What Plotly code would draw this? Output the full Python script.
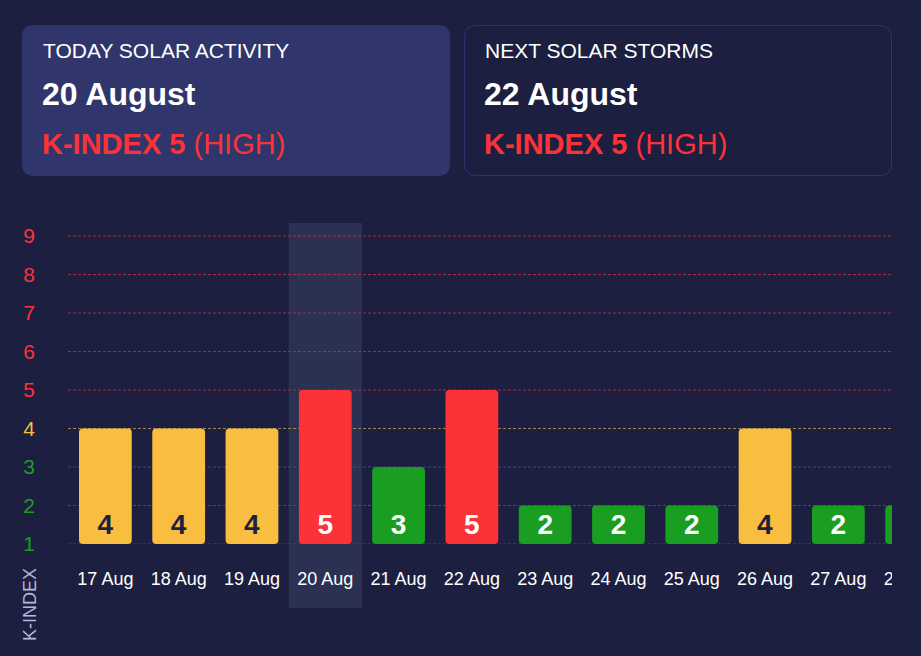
import plotly.graph_objects as go

# chart data
days = ['17 Aug', '18 Aug', '19 Aug', '20 Aug', '21 Aug', '22 Aug',
        '23 Aug', '24 Aug', '25 Aug', '26 Aug', '27 Aug', '28 Aug']
k_index = [4, 4, 4, 5, 3, 5, 2, 2, 2, 4, 2, 2]
y_ticks = [1, 2, 3, 4, 5, 6, 7, 8, 9]
today = '20 Aug'

today_card = ('TODAY SOLAR ACTIVITY', '20 August', 5, 'HIGH')
next_card = ('NEXT SOLAR STORMS', '22 August', 5, 'HIGH')

BG = '#1c1f3f'
RED = '#fc3239'
YELLOW = '#f9bd40'
GREEN = '#1a9e22'
FONT = 'Liberation Sans, Arial, sans-serif'

W, H = 921, 656
ML, MR, MT, MB = 68, 2, 223, 112
PW, PH = W - ML - MR, H - MT - MB


def level_color(v):
    if v >= 5:
        return RED
    if v == 4:
        return YELLOW
    return GREEN


def grid_color(v):
    if v >= 5:
        return 'rgba(210,40,60,0.85)'
    if v == 4:
        return 'rgba(180,150,80,0.85)'
    return 'rgba(70,80,140,0.85)'


# pixel -> paper helpers (for the header cards, which sit outside the plot)
def px(x):
    return (x - ML) / PW


def py(y):
    return (H - MB - y) / PH


def rounded_rect(x0, y0, x1, y1, r):
    a, b, c, d = px(x0), px(x1), py(y0), py(y1)
    rx, ry = r / PW, r / PH
    return (f'M {a + rx},{c} L {b - rx},{c} Q {b},{c} {b},{c - ry} '
            f'L {b},{d + ry} Q {b},{d} {b - rx},{d} '
            f'L {a + rx},{d} Q {a},{d} {a},{d + ry} '
            f'L {a},{c - ry} Q {a},{c} {a + rx},{c} Z')


colors = [level_color(v) for v in k_index]
label_colors = ['#1d2142' if c == YELLOW else '#ffffff' for c in colors]

fig = go.Figure()
fig.add_trace(go.Bar(
    x=days, y=[v - 1 for v in k_index], base=1,
    marker=dict(color=colors, cornerradius=4, line_width=0),
    text=[str(v) for v in k_index],
    textposition='inside', insidetextanchor='start', constraintext='none',
    textangle=0,
    textfont=dict(size=28, color=label_colors, family=FONT, weight='bold'),
    width=0.72, hoverinfo='skip'
))

shapes = []
# highlighted day column
ti = days.index(today)
shapes.append(dict(type='rect', xref='x', yref='paper', x0=ti - 0.5, x1=ti + 0.5,
                   y0=py(608), y1=py(223), fillcolor='#2b3152', line_width=0,
                   layer='below'))
# dashed grid lines
for t in y_ticks:
    shapes.append(dict(type='line', xref='paper', yref='y', x0=0, x1=px(892),
                       y0=t, y1=t, line=dict(color=grid_color(t), width=1, dash='3px,2px'),
                       layer='below'))
# cards
shapes.append(dict(type='path', xref='paper', yref='paper',
                   path=rounded_rect(22, 25, 450, 176, 12),
                   fillcolor='#30366b', line_width=0))
shapes.append(dict(type='path', xref='paper', yref='paper',
                   path=rounded_rect(464.5, 25.5, 891.5, 175.5, 12),
                   fillcolor=BG, line=dict(color='#2f366e', width=1)))
# clip chart at right edge
shapes.append(dict(type='rect', xref='paper', yref='paper', x0=px(892), x1=px(W + 40),
                   y0=py(H + 5), y1=py(190), fillcolor=BG, line_width=0, layer='above'))

annotations = []
for x0, card in [(41, today_card), (483, next_card)]:
    title, date, k, level = card
    annotations.append(dict(x=px(x0), y=py(50), text=title,
                            font=dict(size=21, color='#ffffff', family=FONT)))
    annotations.append(dict(x=px(x0 - 1), y=py(94), text=f'<b>{date}</b>',
                            font=dict(size=32, color='#ffffff', family=FONT)))
    annotations.append(dict(x=px(x0 - 1), y=py(144),
                            text=f'<b>K-INDEX {k}</b> ({level})',
                            font=dict(size=29, color=RED, family=FONT)))
for a in annotations:
    a.update(xref='paper', yref='paper', xanchor='left', yanchor='middle',
             showarrow=False)
annotations.append(dict(x=px(30), y=py(605), xref='paper', yref='paper',
                        xanchor='center', yanchor='middle',
                        text='K-INDEX', textangle=-90, showarrow=False,
                        font=dict(size=18, color='#b3b8db', family=FONT)))

fig.update_layout(
    width=W, height=H, autosize=False,
    margin=dict(l=ML, r=MR, t=MT, b=MB, pad=0, autoexpand=False),
    paper_bgcolor=BG, plot_bgcolor='rgba(0,0,0,0)',
    showlegend=False,
    font=dict(family=FONT),
    shapes=shapes,
    annotations=annotations,
    xaxis=dict(range=[-0.51, 11.10], showgrid=False, zeroline=False,
               showline=False, ticks='', ticklabelstandoff=22, automargin=False,
               tickfont=dict(size=18, color='#ffffff', family=FONT),
               fixedrange=True),
    yaxis=dict(range=[1, 9.34], tickvals=y_ticks,
               ticktext=[f'<span style="color:{level_color(t)}">{t}</span>' for t in y_ticks],
               showgrid=False, zeroline=False, showline=False, ticks='',
               ticklabelstandoff=32, automargin=False,
               tickfont=dict(size=21, family=FONT), fixedrange=True),
)

fig.write_html("out.html", config={'displayModeBar': False},
               post_script="document.body.style.margin='0';")
